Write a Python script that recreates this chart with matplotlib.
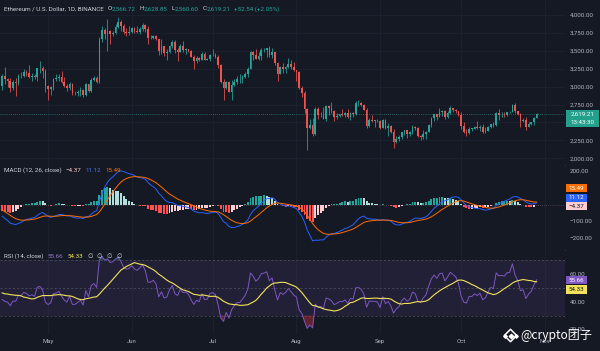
import numpy as np
import pandas as pd
import matplotlib
matplotlib.use("Agg")
import matplotlib.pyplot as plt
from matplotlib.patches import Rectangle

plt.rcParams["font.family"] = ["Roboto", "DejaVu Sans"]

# closes before the visible range, only used so MACD / RSI can warm up
warmup_close = [
    3010, 2970, 2970, 2920, 2990, 3110, 3175, 3240, 3385, 3340,  # Feb 20-29
    3435, 3420, 3490, 3630, 3555, 3815, 3870, 3890, 3915, 3880, 4065, 3980,
    4005, 3880, 3735, 3520, 3645, 3520, 3160, 3515, 3490, 3335, 3330, 3455,
    3590, 3590, 3500, 3560, 3510, 3505, 3645,  # Mar
    3505, 3280, 3310, 3330, 3320, 3350, 3455, 3700, 3505, 3545, 3505, 3240,
    3010,  # Apr 1-13
]

start_date = "2024-04-14"

# visible daily candles Apr 14 - Oct 29 (open = previous close)
close = [
    3155, 3100, 3085, 2985, 3065, 3055, 3155, 3150, 3200, 3185, 3140, 3155, 3130, 3255, 3265, 3215, 3015,
    2970, 2990, 3105, 3115, 3135, 3065, 3005, 2975, 3035, 2910, 2910, 2930, 2950, 2880, 3035, 2945,
    3095, 3120, 3070, 3660, 3790, 3735, 3780, 3730, 3750, 3830, 3895, 3840, 3765, 3745, 3760,
    3815, 3780, 3765, 3810, 3865, 3810, 3680, 3680, 3705, 3665, 3500, 3560, 3470, 3480, 3565,
    3620, 3510, 3485, 3560, 3515, 3520, 3495, 3420, 3355, 3395, 3375, 3450, 3375, 3380, 3435,
    3440, 3420, 3295, 3060, 2980, 3065, 2930, 3020, 3065, 3100, 3100, 3135, 3175, 3245, 3485, 3445,
    3385, 3425, 3505, 3515, 3535, 3440, 3480, 3335, 3175, 3275, 3245, 3270, 3320, 3280, 3230,
    3205, 2985, 2905, 2690, 2420, 2460, 2340, 2685, 2600, 2610, 2555, 2725, 2705, 2660, 2570, 2590,
    2615, 2610, 2635, 2570, 2630, 2620, 2765, 2770, 2745, 2680, 2455, 2530, 2525, 2525, 2515,
    2425, 2540, 2425, 2450, 2370, 2225, 2270, 2295, 2360, 2390, 2340, 2360, 2440, 2420, 2315,
    2295, 2340, 2370, 2465, 2560, 2615, 2580, 2645, 2655, 2580, 2630, 2695, 2675, 2655, 2600,
    2450, 2365, 2350, 2415, 2415, 2440, 2420, 2440, 2370, 2385, 2435, 2475, 2465, 2630, 2605,
    2610, 2605, 2640, 2645, 2745, 2665, 2620, 2525, 2535, 2440, 2480, 2505, 2566.72, 2619.21,
]
high = [
    3170, 3280, 3125, 3125, 3095, 3125, 3170, 3200, 3240, 3225, 3295, 3190, 3170, 3265, 3355, 3290, 3240,
    3020, 3015, 3125, 3170, 3170, 3220, 3130, 3035, 3060, 3050, 2945, 2955, 2995, 2960, 3045, 3040,
    3120, 3145, 3145, 3690, 3840, 3815, 3950, 3795, 3780, 3880, 3975, 3930, 3880, 3820, 3850,
    3835, 3835, 3850, 3830, 3890, 3880, 3840, 3715, 3720, 3715, 3670, 3660, 3565, 3525, 3585,
    3655, 3650, 3535, 3595, 3630, 3545, 3525, 3510, 3440, 3430, 3420, 3485, 3490, 3400, 3460,
    3525, 3465, 3435, 3310, 3110, 3075, 3080, 3095, 3105, 3145, 3170, 3160, 3200, 3270, 3495, 3500,
    3520, 3490, 3545, 3540, 3545, 3560, 3540, 3490, 3340, 3285, 3330, 3285, 3400, 3375, 3350,
    3235, 3215, 3015, 2935, 2700, 2555, 2560, 2715, 2710, 2640, 2720, 2745, 2745, 2780, 2680, 2630,
    2620, 2690, 2645, 2690, 2640, 2645, 2800, 2820, 2790, 2760, 2700, 2560, 2600, 2540, 2545,
    2530, 2555, 2555, 2490, 2465, 2410, 2315, 2325, 2370, 2400, 2390, 2385, 2465, 2445, 2430,
    2330, 2400, 2375, 2485, 2570, 2620, 2620, 2700, 2670, 2675, 2665, 2730, 2705, 2690, 2665,
    2640, 2500, 2405, 2440, 2425, 2455, 2520, 2465, 2475, 2440, 2455, 2480, 2500, 2645, 2690,
    2645, 2640, 2645, 2660, 2755, 2770, 2665, 2635, 2560, 2575, 2505, 2510, 2575, 2628.85,
]
low = [
    2950, 3040, 2990, 2920, 2955, 2865, 3025, 3125, 3130, 3150, 3120, 3075, 3110, 3075, 3195, 3115, 2925,
    2810, 2890, 2955, 3075, 3080, 3050, 2995, 2935, 2950, 2880, 2880, 2865, 2870, 2860, 2865, 2925,
    2930, 3085, 3050, 3050, 3620, 3665, 3500, 3600, 3700, 3740, 3815, 3770, 3740, 3700, 3720,
    3750, 3755, 3755, 3730, 3780, 3760, 3600, 3670, 3665, 3645, 3435, 3460, 3430, 3365, 3470,
    3545, 3470, 3360, 3480, 3480, 3450, 3490, 3410, 3240, 3335, 3355, 3365, 3365, 3365, 3360,
    3425, 3400, 3255, 3050, 2810, 2960, 2925, 2820, 3010, 3035, 3050, 3050, 3120, 3140, 3245, 3375,
    3380, 3370, 3375, 3490, 3420, 3420, 3405, 3305, 3085, 3170, 3190, 3190, 3260, 3240, 3215,
    3080, 2965, 2860, 2630, 2111, 2415, 2310, 2330, 2555, 2580, 2550, 2525, 2610, 2635, 2520, 2545,
    2580, 2595, 2570, 2560, 2540, 2580, 2605, 2730, 2725, 2675, 2420, 2430, 2510, 2440, 2505,
    2405, 2425, 2410, 2305, 2350, 2150, 2220, 2240, 2270, 2325, 2280, 2310, 2345, 2390, 2300,
    2255, 2275, 2275, 2365, 2430, 2525, 2535, 2575, 2590, 2555, 2560, 2615, 2650, 2630, 2590,
    2410, 2350, 2310, 2335, 2385, 2405, 2410, 2385, 2355, 2355, 2375, 2425, 2435, 2445, 2535,
    2580, 2580, 2590, 2630, 2640, 2625, 2600, 2440, 2500, 2400, 2435, 2470, 2470, 2560.60,
]

BG = "#151924"
GRID = "#1e2230"
TXT = "#d1d4dc"
AXT = "#b2b5be"
UP = "#26a69a"
DOWN = "#ef5350"

# indicators (MACD 12/26/9, RSI 14 + 14 SMA)
allc = pd.Series(warmup_close + close, dtype=float)
macd = allc.ewm(span=12, adjust=False).mean() - allc.ewm(span=26, adjust=False).mean()
signal = macd.ewm(span=9, adjust=False).mean()
hist = macd - signal
delta = allc.diff().fillna(0)
gain = delta.clip(lower=0).ewm(alpha=1 / 14, adjust=False).mean()
loss = (-delta.clip(upper=0)).ewm(alpha=1 / 14, adjust=False).mean()
rsi = 100 - 100 / (1 + gain / loss)
rsi_ma = rsi.rolling(14).mean()

hist_col = []
for i in range(len(hist)):
    h, p = hist[i], hist[i - 1] if i else 0
    if h >= 0:
        hist_col.append("#26a69a" if h > p else "#b2dfdb")
    else:
        hist_col.append("#ffcdd2" if h > p else "#ff5252")

n0 = len(warmup_close)
macd = macd.values[n0:]
signal = signal.values[n0:]
hist = hist.values[n0:]
hist_col = hist_col[n0:]
rsi = rsi.values[n0:]
rsi_ma = rsi_ma.values[n0:]

c = np.array(close)
o = np.array([warmup_close[-1]] + close[:-1])
h = np.maximum(np.array(high), np.maximum(o, c))
l = np.minimum(np.array(low), np.minimum(o, c))
x = np.arange(len(c))
dates = pd.date_range(start_date, periods=len(c), freq="D")
months = pd.date_range("2024-05-01", "2024-11-01", freq="MS")
mpos = [(m - dates[0]).days for m in months]

W, H = 600, 351
fig = plt.figure(figsize=(6, 3.51), dpi=100, facecolor=BG)


def pane(top, bottom):
    a = fig.add_axes([0, 1 - bottom / H, 565 / W, (bottom - top) / H])
    a.set_facecolor(BG)
    a.set_xlim(-0.8, 208.5)
    for s in a.spines.values():
        s.set_visible(False)
    a.yaxis.tick_right()
    a.tick_params(axis="y", length=0, pad=3.6, labelsize=4.5, labelcolor=AXT)
    a.tick_params(axis="x", length=0, labelbottom=False)
    for m in mpos:
        a.axvline(m, color=GRID, lw=0.6, zorder=0)
    return a


ax1 = pane(0, 165)
ax2 = pane(165, 250)
ax3 = pane(250, 334)
ax1.spines["bottom"].set_visible(True)
ax1.spines["bottom"].set_color("#2a2e39")
ax2.spines["bottom"].set_visible(True)
ax2.spines["bottom"].set_color("#2a2e39")

# price pane
ax1.set_ylim(1906, 4209)
for lv in range(2000, 4001, 250):
    ax1.axhline(lv, color=GRID, lw=0.6, zorder=0)
ax1.set_yticks([2000, 2250, 2750, 3000, 3250, 3500, 3750, 4000])
ax1.set_yticklabels(["{:,.2f}".format(v) for v in ax1.get_yticks()])
cols = np.where(c >= o, UP, DOWN)
ax1.vlines(x, l, h, colors=cols, lw=0.55, zorder=2)
ax1.bar(x, np.maximum(np.abs(c - o), 5), bottom=np.minimum(o, c), width=0.62,
        color=cols, lw=0, zorder=3)
ax1.axhline(close[-1], color=UP, lw=0.6, ls=(0, (1, 1.5)), alpha=0.7, zorder=1)

# MACD pane
ax2.set_ylim(-271, 238)
ax2.set_yticks([200, -100, -200])
ax2.set_yticklabels(["200.00", "\u2212100.00", "\u2212200.00"])
ax2.bar(x, hist, width=0.72, color=hist_col, lw=0, zorder=2)
ax2.plot(x, macd, color="#2962ff", lw=0.7, zorder=3)
ax2.plot(x, signal, color="#ff6d00", lw=0.7, zorder=3)
ax2.axhline(hist[-1], color="#ffcdd2", lw=0.5, ls=(0, (1, 2)), alpha=0.4, zorder=1)

# RSI pane
ax3.set_ylim(16.7, 77.3)
ax3.set_yticks([60, 40, 20])
ax3.set_yticklabels(["60.00", "40.00", "20.00"])
ax3.axhspan(30, 70, color="#7e57c2", alpha=0.12, lw=0, zorder=0)
for lv in (70, 50, 30):
    ax3.axhline(lv, color="#787b86", lw=0.5, ls=(0, (3, 3)), alpha=0.6, zorder=1)
ax3.fill_between(x, rsi, 70, where=rsi > 70, color="#26a69a", alpha=0.35, lw=0, interpolate=True)
ax3.fill_between(x, rsi, 30, where=rsi < 30, color="#f23645", alpha=0.35, lw=0, interpolate=True)
ax3.plot(x, rsi, color="#7e57c2", lw=0.7, zorder=3)
ax3.plot(x, rsi_ma, color="#f2e35a", lw=0.8, zorder=4)
ax3.set_xticks(mpos)
ax3.set_xticklabels([m.strftime("%b") for m in months])
ax3.tick_params(axis="x", labelbottom=True, labelsize=4.3, labelcolor=AXT, pad=3.5)

# overlay in pixel coordinates for headers, tags, watermark
ov = fig.add_axes([0, 0, 1, 1], zorder=10)
ov.set_xlim(0, W)
ov.set_ylim(H, 0)
ov.axis("off")
ov.patch.set_alpha(0)


def header(x0, y0, parts, size=4.5):
    t = ov.text(x0, y0, parts[0][0], color=parts[0][1], fontsize=size, va="center", ha="left")
    for s, col, gap in parts[1:]:
        t = ov.annotate(s, xy=(1, 0.5), xycoords=t, xytext=(gap, 0), textcoords="offset points",
                        color=col, fontsize=size, va="center", ha="left")


header(4, 9, [("Ethereum / U.S. Dollar, 1D, BINANCE", TXT), ("O", TXT, 2.5), ("2,566.72", UP, 0.3),
              ("H", TXT, 2.5), ("2,628.85", UP, 0.3), ("L", TXT, 2.5), ("2,560.60", UP, 0.3),
              ("C", TXT, 2.5), ("2,619.21", UP, 0.3), ("+52.54 (+2.05%)", UP, 2.5)])
header(4, 170, [("MACD (12, 26, close)", TXT), ("\u22124.37", "#f7c6c9", 3),
                ("11.12", "#4a74f0", 3), ("15.49", "#ff6d00", 3)])
header(4, 256, [("RSI (14, close)", TXT), ("55.66", "#9575cd", 3), ("54.33", "#f2e35a", 3),
                ("\u2205", TXT, 3), ("\u2205", TXT, 3), ("\u2205", TXT, 3), ("\u2205", TXT, 3)])


def tag(yc, s, fc, tc, w=21.5, hh=8.2):
    ov.add_patch(Rectangle((565.8, yc - hh / 2), w, hh, fc=fc, ec="none", zorder=5))
    ov.text(565.8 + w / 2, yc + 0.2, s, color=tc, fontsize=4.5, ha="center", va="center", zorder=6)


ov.add_patch(Rectangle((566, 110), 33, 16.7, fc="#22a08c", ec="none", zorder=5))
ov.text(582.5, 114.6, "2,619.21", color="white", fontsize=4.5, ha="center", va="center", zorder=6)
ov.text(582.5, 122.2, "13:43:30", color="white", fontsize=4.5, ha="center", va="center", zorder=6)
tag(188.3, "15.49", "#ff6d00", "white")
tag(197.7, "11.12", "#2962ff", "white")
tag(206, "\u22124.37", "#ffcdd2", "#131722")
tag(280.3, "55.66", "#7e57c2", "white")
tag(289.5, "54.33", "#f2e35a", "#131722")

# watermark
ov.scatter([510.5], [335.5], marker="D", s=40, facecolors="none", edgecolors="white", linewidths=1.1, zorder=7)
ov.scatter([510.5], [335.5], marker="D", s=5, color="white", zorder=7)
ov.scatter([505, 516], [335.5, 335.5], marker="D", s=3, color="white", zorder=7)
ov.text(520, 335.5, "@crypto团子", color="white", fontsize=8.7, va="center", ha="left",
        family=["Noto Sans CJK SC", "DejaVu Sans"], zorder=7)

fig.savefig("out.png", dpi=100, facecolor=BG)
